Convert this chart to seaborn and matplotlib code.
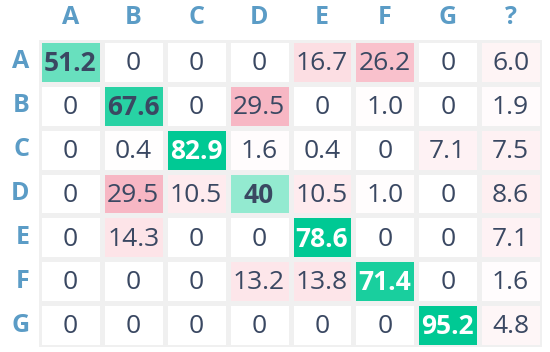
import numpy as np
import seaborn as sns
import matplotlib.pyplot as plt
from matplotlib.colors import LinearSegmentedColormap

true_labels = ['A', 'B', 'C', 'D', 'E', 'F', 'G']
pred_labels = ['A', 'B', 'C', 'D', 'E', 'F', 'G', '?']

row_A = [51.2, 0, 0, 0, 16.7, 26.2, 0, 6.0]
row_B = [0, 67.6, 0, 29.5, 0, 1.0, 0, 1.9]
row_C = [0, 0.4, 82.9, 1.6, 0.4, 0, 7.1, 7.5]
row_D = [0, 29.5, 10.5, 40, 10.5, 1.0, 0, 8.6]
row_E = [0, 14.3, 0, 0, 78.6, 0, 0, 7.1]
row_F = [0, 0, 0, 13.2, 13.8, 71.4, 0, 1.6]
row_G = [0, 0, 0, 0, 0, 0, 95.2, 4.8]

mat = np.array([row_A, row_B, row_C, row_D, row_E, row_F, row_G])
n_rows, n_cols = mat.shape

diag = np.zeros_like(mat, dtype=bool)
for i in range(n_rows):
    diag[i, i] = True

plt.rcParams['font.family'] = ['Open Sans', 'DejaVu Sans']

fig = plt.figure(figsize=(5.5, 3.52), dpi=100)
ax = fig.add_axes([39 / 550, 5 / 352, 503 / 550, 307 / 352])

green = LinearSegmentedColormap.from_list('g', ['#a6eed8', '#00c994'])
pink = LinearSegmentedColormap.from_list('p', ['#ffffff', '#fde3e7', '#f7b6c3'])

# off-diagonal cells
sns.heatmap(mat, mask=diag, cmap=pink, vmin=0, vmax=30, cbar=False,
            linewidths=2.5, linecolor='#f0f0f0', ax=ax)
# diagonal cells
sns.heatmap(mat, mask=~diag, cmap=green, vmin=35, vmax=78, cbar=False,
            linewidths=2.5, linecolor='#f0f0f0', ax=ax)

text_dark = '#3a4862'
for i in range(n_rows):
    for j in range(n_cols):
        v = mat[i, j]
        if i == j:
            s = f"{v:g}"
            col = 'white' if v > 70 else text_dark
            ax.text(j + 0.5, i + 0.54, s, ha='center', va='center',
                    fontsize=19, fontweight='bold', color=col)
        else:
            s = '0' if v == 0 else f"{v:.1f}"
            ax.text(j + 0.5, i + 0.54, s, ha='center', va='center',
                    fontsize=19, color=text_dark)

ax.xaxis.tick_top()
ax.set_xticks(np.arange(n_cols) + 0.5)
ax.set_xticklabels(pred_labels, fontsize=18, fontweight='bold', color='#5b9cc6')
ax.set_yticks(np.arange(n_rows) + 0.5)
ax.set_yticklabels(true_labels, fontsize=18, fontweight='bold', color='#5b9cc6',
                   rotation=0)
ax.tick_params(length=0, pad=7)
ax.set_xlabel('')
ax.set_ylabel('')

fig.savefig('out.png', dpi=100)
